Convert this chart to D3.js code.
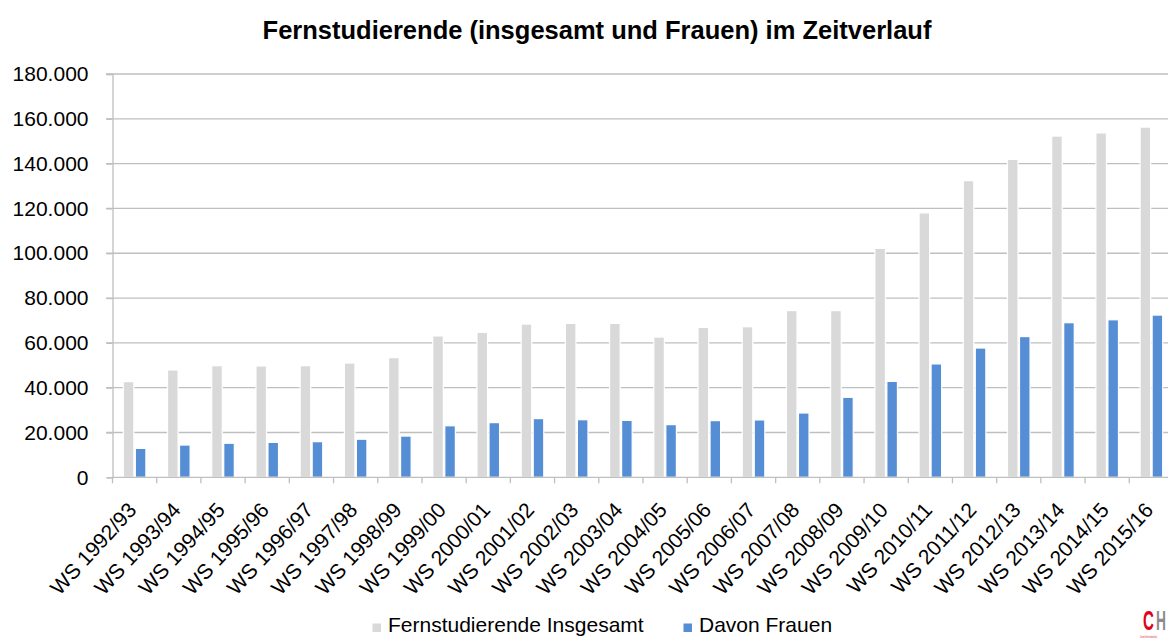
<!DOCTYPE html>
<html>
<head>
<meta charset="utf-8">
<script src="https://cdn.jsdelivr.net/npm/d3@7"></script>
<style>
  body { margin: 0; background: #fff; }
  text { font-family: "Liberation Sans", Arial, sans-serif; fill: #000; }
</style>
</head>
<body>
<script>
const semesters = [
  "WS 1992/93", "WS 1993/94", "WS 1994/95", "WS 1995/96", "WS 1996/97", "WS 1997/98",
  "WS 1998/99", "WS 1999/00", "WS 2000/01", "WS 2001/02", "WS 2002/03", "WS 2003/04",
  "WS 2004/05", "WS 2005/06", "WS 2006/07", "WS 2007/08", "WS 2008/09", "WS 2009/10",
  "WS 2010/11", "WS 2011/12", "WS 2012/13", "WS 2013/14", "WS 2014/15", "WS 2015/16"
];
// Fernstudierende insgesamt
const total = [
  42700, 47900, 49800, 49700, 49800, 51000, 53400, 63100, 64700, 68400, 68700, 68700,
  62600, 66900, 67200, 74400, 74400, 102200, 118000, 132400, 141900, 152300, 153700, 156300
];
// davon Frauen
const women = [
  12900, 14400, 15200, 15600, 15900, 17000, 18400, 23000, 24400, 26200, 25700, 25400,
  23500, 25300, 25600, 28700, 35700, 42800, 50600, 57700, 62800, 69000, 70300, 72400
];
const seriesNames = ["Fernstudierende Insgesamt", "Davon Frauen"];
const seriesColors = ["#d9d9d9", "#558ed5"];
const yTicks = [0, 20000, 40000, 60000, 80000, 100000, 120000, 140000, 160000, 180000];

const width = 1168, height = 639;
const svg = d3.select("body").append("svg")
  .attr("width", width).attr("height", height);

const x0 = d3.scaleBand().domain(semesters).range([112.5, 1173.5]).padding(0);
const x1 = d3.scaleBand().domain([0, 1]).range([0, x0.bandwidth()])
  .paddingInner(0.12).paddingOuter(0.9);
const y = d3.scaleLinear().domain([0, 180000]).range([477.3, 74]);

const fmt = v => d3.format(",")(v).replace(/,/g, ".");

// gridlines
svg.append("g")
  .selectAll("line").data(yTicks.slice(1)).join("line")
  .attr("x1", 106).attr("x2", width)
  .attr("y1", d => y(d)).attr("y2", d => y(d))
  .attr("stroke", "#bfbfbf").attr("stroke-width", 1.3);

// y axis
const yAxis = svg.append("g").attr("transform", "translate(112.5,0)")
  .call(d3.axisLeft(y).tickValues(yTicks).tickSize(6).tickPadding(18).tickFormat(fmt));
yAxis.select(".domain").attr("stroke", "#bfbfbf").attr("stroke-width", 1.3);
yAxis.selectAll(".tick line").attr("stroke", "#bfbfbf").attr("stroke-width", 1.3);
yAxis.selectAll("text").attr("font-size", 21).attr("font-family", "Liberation Sans").attr("fill", "#000");

// bars
const groups = svg.append("g").selectAll("g").data(semesters).join("g")
  .attr("transform", d => `translate(${x0(d)},0)`);
groups.selectAll("rect")
  .data((d, i) => [total[i], women[i]])
  .join("rect")
  .attr("x", (d, j) => x1(j))
  .attr("width", x1.bandwidth())
  .attr("y", d => y(d))
  .attr("height", d => y(0) - y(d))
  .attr("fill", (d, j) => seriesColors[j])
  .attr("stroke", "#fff").attr("stroke-width", 1.2);

// x axis line + category ticks
svg.append("line")
  .attr("x1", 112.5).attr("x2", width).attr("y1", y(0)).attr("y2", y(0))
  .attr("stroke", "#bfbfbf").attr("stroke-width", 1.3);
svg.append("g").selectAll("line").data(semesters).join("line")
  .attr("x1", d => x0(d)).attr("x2", d => x0(d))
  .attr("y1", y(0)).attr("y2", y(0) + 6)
  .attr("stroke", "#bfbfbf").attr("stroke-width", 1.3);

// rotated x labels
svg.append("g").selectAll("text").data(semesters).join("text")
  .attr("transform", d => `translate(${x0(d) + x0.bandwidth() / 2 + 3},511) rotate(-47.5)`)
  .attr("text-anchor", "end")
  .attr("font-size", 21)
  .text(d => d);

// title
svg.append("text")
  .attr("x", 597).attr("y", 39)
  .attr("text-anchor", "middle")
  .attr("font-size", 25.5).attr("font-weight", "bold")
  .text("Fernstudierende (insgesamt und Frauen) im Zeitverlauf");

// legend
const legendX = [372.5, 683.5];
const legend = svg.append("g").selectAll("g").data(seriesNames).join("g")
  .attr("transform", (d, i) => `translate(${legendX[i]},623.5)`);
legend.append("rect").attr("width", 8.5).attr("height", 8.5)
  .attr("fill", (d, i) => seriesColors[i]);
legend.append("text").attr("x", 15.5).attr("y", 8.7)
  .attr("font-size", 21).text(d => d);

// logo
const logo = svg.append("g").attr("transform", "translate(1143,630)");
logo.append("text").attr("transform", "scale(0.55,1)")
  .attr("font-size", 27.5).attr("font-weight", "bold").style("fill", "#e2001a").text("C");
logo.append("text").attr("transform", "translate(13,0) scale(0.5,1)")
  .attr("font-size", 27.5).attr("font-weight", "bold").style("fill", "#8c8c8c").text("H");
logo.append("text").attr("x", -3).attr("y", 7.8)
  .attr("font-size", 2.8).attr("textLength", 17).attr("lengthAdjust", "spacingAndGlyphs")
  .style("fill", "#e2001a").text("Centrum für Hochschulentwicklung");
</script>
</body>
</html>
